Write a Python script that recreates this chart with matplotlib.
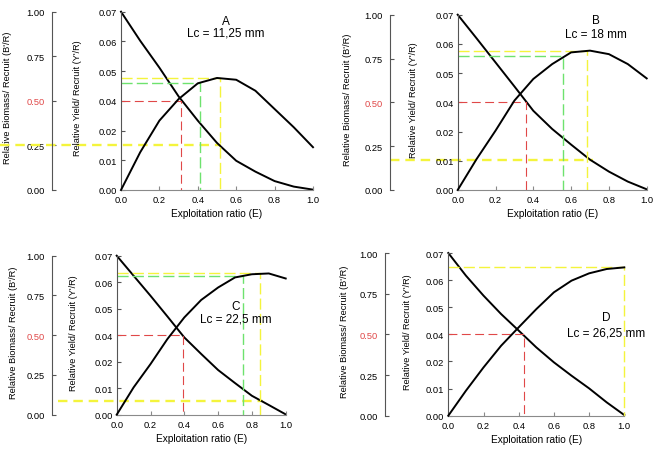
import numpy as np
import matplotlib.pyplot as plt

plt.rcParams['font.family'] = ['Liberation Sans', 'DejaVu Sans']

# Data
E = [0.0, 0.1, 0.2, 0.3, 0.4, 0.5, 0.6, 0.7, 0.8, 0.9, 1.0]

biomass_A = [1.0, 0.837, 0.686, 0.525, 0.389, 0.264, 0.164, 0.103, 0.050, 0.019, 0.002]
yield_A = [0.0, 0.0127, 0.0267, 0.0406, 0.0459, 0.0477, 0.0471, 0.0434, 0.0345, 0.0222, 0.0144]

biomass_B = [1.0, 0.865, 0.728, 0.591, 0.452, 0.348, 0.259, 0.173, 0.105, 0.048, 0.004]
yield_B = [0.0, 0.0106, 0.0206, 0.0406, 0.0480, 0.0531, 0.0571, 0.0577, 0.0565, 0.0531, 0.0482]

biomass_C = [1.0, 0.874, 0.748, 0.618, 0.486, 0.382, 0.281, 0.199, 0.119, 0.061, 0.002]
yield_C = [0.0, 0.0103, 0.0191, 0.0371, 0.0467, 0.0533, 0.0580, 0.0618, 0.0630, 0.0633, 0.0614]

biomass_D = [1.0, 0.861, 0.738, 0.625, 0.523, 0.420, 0.328, 0.246, 0.168, 0.082, 0.004]
yield_D = [0.0, 0.0092, 0.0178, 0.0316, 0.0426, 0.0493, 0.0555, 0.0598, 0.0625, 0.0641, 0.0647]

# reference points: E50, E0.1, Emax
e50 = {'A': 0.31, 'B': 0.36, 'C': 0.39, 'D': 0.43}
e01 = {'A': 0.41, 'B': 0.555, 'C': 0.75, 'D': None}
y01 = {'A': 0.0461, 'B': 0.0560, 'C': 0.0625, 'D': None}
emax = {'A': 0.515, 'B': 0.683, 'C': 0.845, 'D': 1.0}
ymax = {'A': 0.0476, 'B': 0.0577, 'C': 0.0633, 'D': 0.0647}
b_emax = {'A': 0.254, 'B': 0.170, 'C': 0.088, 'D': None}
b_line = {'A': (-0.63, 0.523), 'B': (-0.36, 0.718), 'C': (-0.35, 0.868), 'D': None}

lc_text = {'A': 'Lc = 11,25 mm', 'B': 'Lc = 18 mm',
           'C': 'Lc = 22,5 mm', 'D': 'Lc = 26,25 mm'}

y_tick_vals = [0.0, 0.01, 0.02, 0.04, 0.05, 0.06, 0.07]
b_tick_vals = [0.0, 0.25, 0.5, 0.75, 1.0]
x_tick_vals = [0.0, 0.2, 0.4, 0.6, 0.8, 1.0]

panels = {'A': (biomass_A, yield_A), 'B': (biomass_B, yield_B),
          'C': (biomass_C, yield_C), 'D': (biomass_D, yield_D)}

# layout in pixels: inner left, right, top, bottom, outer spine x,
# outer label x, inner label x, text centre x, letter y, Lc y
W, H = 658, 452
layout = {
    'A': (121, 313, 12.7, 191, 52, 12, 82, 226, 22, 34),
    'B': (457.7, 646.7, 15.7, 191, 390, 352, 418, 596, 21, 35),
    'C': (116.7, 285.7, 256.7, 415.7, 52, 18, 78, 236, 307, 320),
    'D': (448.3, 624.3, 254, 416.7, 385, 349, 412, 606, 318, 333),
}

# the yield axis is labelled at even spacing with 0.03 missing
tick_pos = np.arange(len(y_tick_vals))


def fwd(v):
    return np.interp(v, y_tick_vals, tick_pos)


def inv(p):
    return np.interp(p, tick_pos, y_tick_vals)


RED = '#e04848'
GREEN = '#6ee26e'
YELLOW = '#f4f43c'
SPINE = '#555555'

fig = plt.figure(figsize=(W / 100, H / 100), dpi=100)

for key, (bio, yld) in panels.items():
    l, r, t, b, ox, olx, ilx, tx, ty1, ty2 = layout[key]
    w, h = r - l, b - t
    ax = fig.add_axes([l / W, 1 - b / H, w / W, h / H])
    tw = ax.twinx()

    ax.set_yscale('function', functions=(fwd, inv))
    ax.set_xlim(0, 1)
    ax.set_ylim(0, 0.07)
    tw.set_ylim(0, 1)

    # dashed reference lines
    ax.plot([0, e50[key], e50[key]], [0.04, 0.04, 0], color=RED,
            lw=0.8, dashes=(8, 4), zorder=2, clip_on=False)
    if e01[key] is not None:
        ax.plot([0, e01[key], e01[key]], [y01[key], y01[key], 0],
                color=GREEN, lw=1.0, dashes=(8, 3), zorder=2, clip_on=False)
    ax.plot([0, emax[key], emax[key]], [ymax[key], ymax[key], 0],
            color=YELLOW, lw=1.0, dashes=(8, 3), zorder=2, clip_on=False)
    if b_line[key] is not None:
        tw.plot(list(b_line[key]), [b_emax[key], b_emax[key]],
                color=YELLOW, lw=1.7, dashes=(4, 2.5), clip_on=False,
                zorder=2)

    ax.plot(E, yld, color='black', lw=1.4, zorder=3, clip_on=False)
    tw.plot(E, bio, color='black', lw=1.4, zorder=3, clip_on=False)

    # inner axes styling
    for s in ['top', 'right']:
        ax.spines[s].set_visible(False)
    ax.spines['left'].set_color(SPINE)
    ax.spines['bottom'].set_color('#8a8a8a')
    ax.set_xticks(x_tick_vals)
    ax.set_xticklabels(['%.1f' % v for v in x_tick_vals])
    ax.set_yticks(y_tick_vals)
    ax.set_yticklabels(['%.2f' % v for v in y_tick_vals])
    ax.minorticks_off()
    ax.tick_params(direction='in', length=3, width=0.8, labelsize=6.7,
                   pad=3, colors='black')
    ax.tick_params(axis='y', color=SPINE)
    ax.tick_params(axis='x', color='#8a8a8a', pad=3.5)
    ax.set_xlabel('Exploitation ratio (E)', fontsize=7.3, labelpad=3)
    ax.set_ylabel("Relative Yield/ Recruit (Y'/R)", fontsize=6.6)
    ax.yaxis.set_label_coords((ilx - l) / w, 0.52)

    # outer biomass axis
    for s in ['top', 'right', 'bottom']:
        tw.spines[s].set_visible(False)
    tw.spines['left'].set_visible(True)
    tw.spines['left'].set_position(('axes', (ox - l) / w))
    tw.spines['left'].set_color(SPINE)
    tw.yaxis.set_ticks_position('left')
    tw.yaxis.set_label_position('left')
    tw.set_yticks(b_tick_vals)
    tw.set_yticklabels(['%.2f' % v for v in b_tick_vals])
    tw.tick_params(direction='in', length=3, width=0.8, labelsize=6.7,
                   pad=5, color=SPINE)
    tw.get_yticklabels()[2].set_color(RED)
    tw.set_ylabel("Relative Biomass/ Recruit (B'/R)", fontsize=6.7)
    tw.yaxis.set_label_coords((olx - l) / w, 0.52)

    ax.set_zorder(tw.get_zorder() + 1)
    ax.patch.set_visible(False)

    ax.text((tx - l) / w, (b - ty1) / h, key,
            transform=ax.transAxes, ha='center', va='center', fontsize=8.5)
    ax.text((tx - l) / w, (b - ty2) / h, lc_text[key],
            transform=ax.transAxes, ha='center', va='center', fontsize=8.5)

fig.savefig('out.png', dpi=100)
